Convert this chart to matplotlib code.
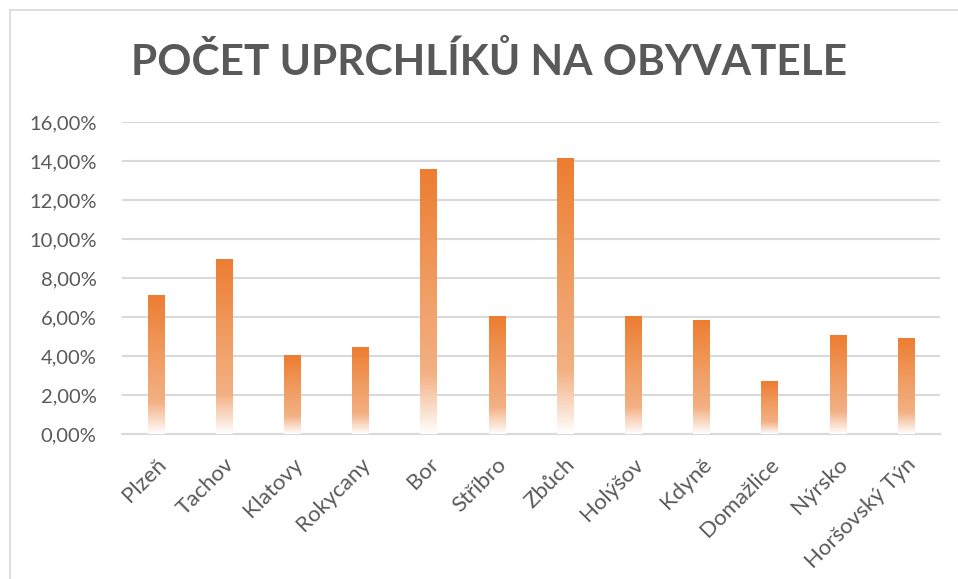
import matplotlib
matplotlib.use("Agg")
import matplotlib.pyplot as plt
import numpy as np
from matplotlib.colors import LinearSegmentedColormap
from matplotlib.lines import Line2D
from matplotlib.ticker import FuncFormatter
import matplotlib.transforms as mtransforms

plt.rcParams['font.family'] = ['Lato', 'DejaVu Sans']

mesta = ['Plzeň', 'Tachov', 'Klatovy', 'Rokycany', 'Bor', 'Stříbro', 'Zbůch',
         'Holýšov', 'Kdyně', 'Domažlice', 'Nýrsko', 'Horšovský Týn']
podil = [0.0708, 0.0897, 0.0401, 0.0446, 0.1355, 0.0600, 0.1415,
         0.0605, 0.0580, 0.0267, 0.0503, 0.0490]
y_ticks = [0.0, 0.02, 0.04, 0.06, 0.08, 0.10, 0.12, 0.14, 0.16]

SEDA = '#595959'
MRIZKA = '#D9D9D9'

fig = plt.figure(figsize=(9.58, 5.79), dpi=100)
ax = fig.add_axes([0.127, 0.2504, 0.854, 0.5389])

x = np.arange(len(mesta))
bars = ax.bar(x, podil, width=0.235, facecolor='none', edgecolor='none', zorder=3)

# prechod od oranzove nahore do bile dole (jako v Excelu)
cmap = LinearSegmentedColormap.from_list(
    'oranz', [(0.0, '#FFFFFF'), (0.06, '#FCE9DC'), (0.23, '#F3B083'),
              (0.6, '#F09A5E'), (1.0, '#ED7D31')])
grad = np.linspace(0, 1, 256).reshape(-1, 1)
for b in bars:
    x0, y0 = b.get_x(), b.get_y()
    w, h = b.get_width(), b.get_height()
    ax.imshow(grad, cmap=cmap, origin='lower', aspect='auto',
              extent=[x0, x0 + w, y0, y0 + h], zorder=3, interpolation='bicubic')

ax.set_xlim(-0.5, len(mesta) - 0.5)
ax.set_ylim(0, 0.16)
ax.set_yticks(y_ticks)
ax.yaxis.set_major_formatter(FuncFormatter(lambda v, p: f'{v * 100:.2f}%'.replace('.', ',')))
ax.tick_params(axis='y', length=0, pad=18, labelsize=14.5, labelcolor=SEDA)
ax.grid(axis='y', color=MRIZKA, linewidth=1.5, zorder=0)
ax.set_axisbelow(True)
for s in ['top', 'right', 'left']:
    ax.spines[s].set_visible(False)
ax.spines['bottom'].set_color(MRIZKA)
ax.spines['bottom'].set_linewidth(1.5)

ax.set_xticks(x)
ax.set_xticklabels([])
ax.tick_params(axis='x', length=0)
offset = mtransforms.ScaledTranslation(0, -20 / 100, fig.dpi_scale_trans)
for xi, m in zip(x, mesta):
    ax.text(xi, 0, m, rotation=45, ha='right', va='top', rotation_mode='anchor',
            fontsize=16, color=SEDA, transform=ax.transData + offset)

fig.text(0.511, 0.893, 'POČET UPRCHLÍKŮ NA OBYVATELE', ha='center', va='center',
         fontsize=30.5, fontweight='bold', color=SEDA)

# okraj oblasti grafu
fig.add_artist(Line2D([10 / 958, 1.0], [1 - 10 / 579, 1 - 10 / 579],
                      color=MRIZKA, linewidth=1.2, transform=fig.transFigure))
fig.add_artist(Line2D([10 / 958, 10 / 958], [0, 1 - 10 / 579],
                      color=MRIZKA, linewidth=1.2, transform=fig.transFigure))

fig.savefig('out.png', dpi=100)
